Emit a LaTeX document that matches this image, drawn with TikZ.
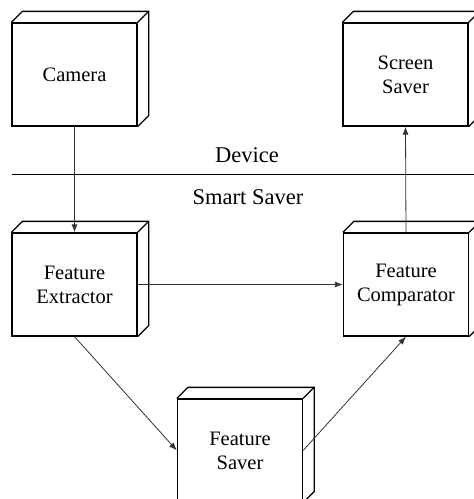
\documentclass[tikz,border=0pt]{standalone}
\usepackage{fontspec}
\setmainfont{Liberation Serif}
\usetikzlibrary{arrows.meta, positioning, calc}

\begin{document}
\begin{tikzpicture}[
        x=1pt, y=-1pt,
        block/.style={rectangle, draw, line width=1.3pt, minimum width=125pt, minimum height=103pt,
            align=center, font=\fontsize{20.5}{24}\selectfont},
        depth/.style={line width=1.3pt, line join=miter},
        flow/.style={draw=black!80, line width=0.8pt, -{Latex[length=8pt, width=6pt]}},
        sectiontext/.style={font=\fontsize{22.5}{26}\selectfont}
    ]
        \useasboundingbox (0,0) rectangle (474,499);

        % Các khối chính
        \node [block] (Cam) at (74.5,74.5) {Camera};
        \node [block] (Scr) at (405.5,74.5) {Screen\\Saver};
        \node [block] (FE) at (74.5,284.5) {Feature\\Extractor};
        \node [block] (FC) at (406,284.5) {Feature\\Comparator};
        \node [block] (FS) at (240,450.5) {Feature\\Saver};

        % Mặt trên và mặt bên của mỗi khối
        \foreach \n in {Cam, Scr, FE, FC, FS} {
            \draw [depth] (\n.north west) -- ++(11,-11) -- ($(\n.north east)+(11,-11)$)
                -- ($(\n.south east)+(11,-11)$) -- (\n.south east);
            \draw [depth] (\n.north east) -- ++(11,-11);
        }

        % Đường phân cách
        \coordinate (sepL) at (12,174);
        \coordinate (sepR) at (474,174);
        \draw [line width=0.9pt] (sepL) -- (sepR);
        \node [sectiontext] (dev) at (247,155) {Device};
        \node [sectiontext] (smart) at (248,197) {Smart Saver};

        % Các mũi tên
        \draw [flow] (Cam.south) -- (FE.north);
        \draw [flow] (FE.east) -- (FC.west);
        \draw [flow] (FC.north) -- (Scr.south);
        \draw [flow] (FE.south) -- (FS.west);
        \draw [flow] (FS.east) -- (FC.south);
    \end{tikzpicture}
\end{document}
